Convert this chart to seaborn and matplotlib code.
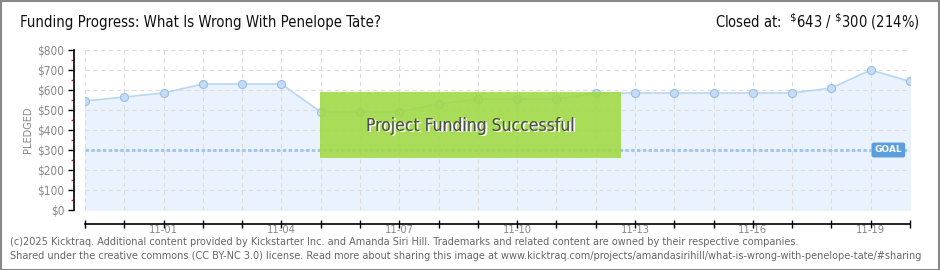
import matplotlib
matplotlib.use("Agg")
import matplotlib.pyplot as plt
import seaborn as sns
import pandas as pd
import numpy as np
from matplotlib.patches import Rectangle

dates = ["10-30", "10-31", "11-01", "11-02", "11-03", "11-04", "11-05", "11-06",
         "11-07", "11-08", "11-09", "11-10", "11-11", "11-12", "11-13", "11-14",
         "11-15", "11-16", "11-17", "11-18", "11-19", "11-20"]
pledged = [545, 565, 585, 630, 630, 630, 490, 490, 490, 530, 555, 555, 555, 585,
           585, 585, 585, 585, 585, 610, 700, 643]
goal = 300
y_ticks = [0, 100, 200, 300, 400, 500, 600, 700, 800]
y_labels = ["$0", "$100", "$200", "$300", "$400", "$500", "$600", "$700", "$800"]
labeled_dates = ["11-01", "11-04", "11-07", "11-10", "11-13", "11-16", "11-19"]

title = "Funding Progress: What Is Wrong With Penelope Tate?"
footer1 = "(c)2025 Kicktraq. Additional content provided by Kickstarter Inc. and Amanda Siri Hill. Trademarks and related content are owned by their respective companies."
footer2 = "Shared under the creative commons (CC BY-NC 3.0) license. Read more about sharing this image at www.kicktraq.com/projects/amandasirihill/what-is-wrong-with-penelope-tate/#sharing"

sns.set_theme(style="white")
plt.rcParams['font.family'] = ['DejaVu Sans']

df = pd.DataFrame({"idx": np.arange(len(dates)), "date": dates, "pledged": pledged})

W, H = 940, 270
fig = plt.figure(figsize=(W / 100, H / 100), dpi=100)
fig.patch.set_facecolor("white")
ax = fig.add_axes([85 / W, 60 / H, 825 / W, 160 / H])
ax.set_facecolor("white")

# area fill (below the grid so the dashed grid shows through)
ax.fill_between(df["idx"], df["pledged"], 0, color="#eaf3fd", zorder=0.2)
sns.lineplot(data=df, x="idx", y="pledged", ax=ax, color="#b9d6f3", linewidth=1.2,
             marker="o", markersize=5.8, markerfacecolor="#c4dcf6",
             markeredgecolor="#9dbfe2", markeredgewidth=0.8, zorder=3)

# goal line
ax.axhline(goal, color="#a4c6ea", linewidth=2.2, linestyle=(0, (1.1, 0.8)), zorder=2)

ax.set_xlim(0, len(dates) - 1)
ax.set_ylim(0, 800)

# grid
ax.set_yticks(y_ticks)
ax.set_yticks([50, 150, 250, 350, 450, 550, 650, 750], minor=True)
ax.set_yticklabels(y_labels)
ax.set_xticks(df["idx"])
ax.set_xticklabels([d if d in labeled_dates else "" for d in dates])
ax.grid(True, which="major", color="#dcdcdc", linestyle=(0, (4, 3)), linewidth=0.8)
ax.set_axisbelow(True)

for s in ["top", "right"]:
    ax.spines[s].set_visible(False)
ax.spines["left"].set_position(("outward", 8))
ax.spines["bottom"].set_position(("outward", 10))
ax.spines["left"].set_color("black")
ax.spines["bottom"].set_color("black")
ax.spines["left"].set_linewidth(1.2)
ax.spines["bottom"].set_linewidth(1.2)

ax.tick_params(axis="y", which="major", direction="out", length=4, width=1, color="black",
               labelsize=8.5, labelcolor="#888888", pad=3, left=True)
ax.tick_params(axis="y", which="minor", direction="out", length=2.5, width=1, color="#d62020", left=True)
ax.tick_params(axis="x", which="major", direction="inout", length=6, width=1, color="black",
               labelsize=8, labelcolor="#888888", pad=-2, bottom=True)
for lab in ax.get_xticklabels() + ax.get_yticklabels():
    lab.set_fontstretch("condensed")
ax.set_xlabel("")
ax.set_ylabel("PLEDGED", fontsize=7, color="#888888", labelpad=3)

# GOAL label
ax.text(20.45, goal, "GOAL", fontsize=6.5, color="white", ha="center", va="center",
        fontweight="bold", zorder=6,
        bbox=dict(boxstyle="round,pad=0.25,rounding_size=0.15", fc="#5b9ee0", ec="#5b9ee0"))

# success box
ax.add_patch(Rectangle((0.285, 0.325), 0.365, 0.4125, transform=ax.transAxes,
                       facecolor="#9fd942", edgecolor="none", alpha=0.88, zorder=5))
ax.text(0.4675 + 0.0015, 0.525 - 0.008, "Project Funding Successful", transform=ax.transAxes,
        ha="center", va="center", fontsize=12.5, color="white", zorder=6, fontstretch="condensed")
ax.text(0.4675, 0.525, "Project Funding Successful", transform=ax.transAxes,
        ha="center", va="center", fontsize=12.5, color="#4d4d4d", zorder=7, fontstretch="condensed")

# title and header
fig.text(20 / W, 1 - 22 / H, title, fontsize=10.7, color="#111111", ha="left", va="center",
         fontstretch="condensed")
fig.text(920 / W, 1 - 22 / H, r"Closed at:  $^{\$}$643 / $^{\$}$300 (214%)", fontsize=10.5,
         color="#111111", ha="right", va="center", fontstretch="condensed")

# footer
fig.text(10 / W, 1 - 242 / H, footer1, fontsize=7, color="#666666", ha="left", va="center")
fig.text(10 / W, 1 - 256 / H, footer2, fontsize=7, color="#666666", ha="left", va="center")

# frame
fig.patches.append(Rectangle((0.5 / W, 0.5 / H), 1 - 1.5 / W, 1 - 1.5 / H, transform=fig.transFigure,
                             fill=False, edgecolor="#888888", linewidth=1.5))

fig.savefig("out.png", dpi=100)
